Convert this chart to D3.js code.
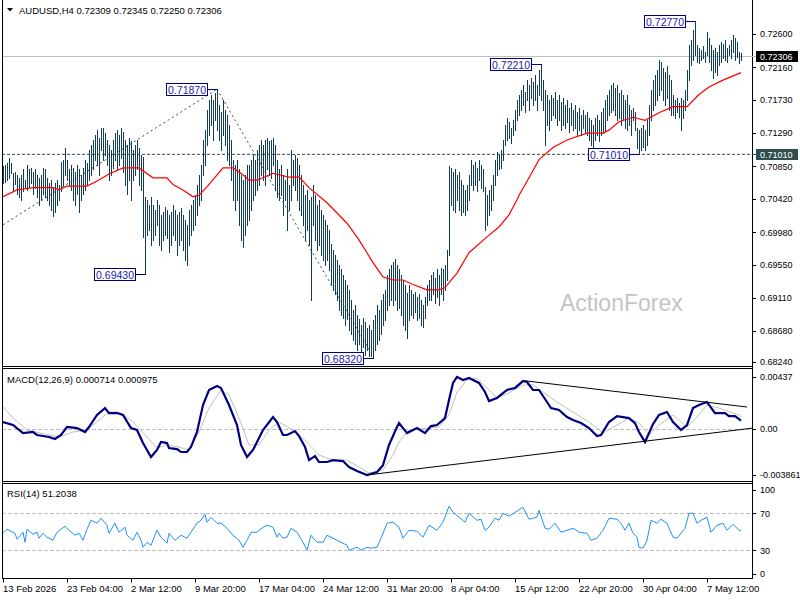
<!DOCTYPE html>
<html>
<head>
<meta charset="utf-8">
<script src="https://cdn.jsdelivr.net/npm/d3@7"></script>
<style>
  body { margin: 0; background: #fff; }
  text { font-family: "Liberation Sans", Arial, sans-serif; }
</style>
</head>
<body>
<svg id="chart" width="800" height="600"></svg>
<script>
// H4 bars, high / low per bar (13 Feb 20:00 .. 12 May 08:00)
const highs = [
  0.7085,0.7087,0.7090,0.7096,0.7090,0.7077,0.7078,0.7074,0.7070,0.7074,
  0.7081,0.7067,0.7087,0.7081,0.7083,0.7078,0.7081,0.7074,0.7070,0.7074,
  0.7083,0.7081,0.7070,0.7063,0.7067,0.7058,0.7063,0.7067,0.7061,0.7091,
  0.7094,0.7110,0.7094,0.7081,0.7087,0.7083,0.7078,0.7087,0.7081,0.7074,
  0.7083,0.7094,0.7090,0.7107,0.7114,0.7120,0.7127,0.7133,0.7123,0.7136,
  0.7136,0.7129,0.7120,0.7114,0.7107,0.7120,0.7129,0.7133,0.7127,0.7136,
  0.7131,0.7120,0.7114,0.7123,0.7118,0.7107,0.7114,0.7120,0.7110,0.7100,
  0.7098,0.7045,0.7041,0.7034,0.7045,0.7034,0.7027,0.7041,0.7034,0.7021,
  0.7025,0.7032,0.7027,0.7021,0.7025,0.7034,0.7027,0.7021,0.7025,0.7030,
  0.7021,0.7014,0.7008,0.7028,0.7034,0.7041,0.7047,0.7061,0.7074,0.7087,
  0.7120,0.7133,0.7160,0.7173,0.7180,0.7173,0.7182,0.7187,0.7166,0.7157,
  0.7173,0.7160,0.7153,0.7140,0.7120,0.7094,0.7087,0.7094,0.7081,0.7074,
  0.7067,0.7074,0.7087,0.7087,0.7094,0.7100,0.7094,0.7107,0.7114,0.7120,
  0.7114,0.7120,0.7123,0.7118,0.7120,0.7123,0.7114,0.7094,0.7081,0.7087,
  0.7074,0.7067,0.7081,0.7061,0.7107,0.7094,0.7100,0.7096,0.7087,0.7074,
  0.7061,0.7047,0.7054,0.7041,0.7045,0.7061,0.7047,0.7034,0.7041,0.7028,
  0.7021,0.7014,0.7008,0.7001,0.6982,0.6975,0.6968,0.6962,0.6955,0.6949,
  0.6942,0.6935,0.6929,0.6922,0.6909,0.6896,0.6902,0.6889,0.6883,0.6876,
  0.6885,0.6880,0.6872,0.6876,0.6869,0.6882,0.6889,0.6902,0.6896,0.6909,
  0.6916,0.6922,0.6942,0.6949,0.6955,0.6959,0.6963,0.6955,0.6949,0.6942,
  0.6935,0.6929,0.6918,0.6929,0.6922,0.6916,0.6919,0.6912,0.6916,0.6909,
  0.6902,0.6912,0.6929,0.6935,0.6942,0.6946,0.6938,0.6949,0.6942,0.6951,
  0.6949,0.6955,0.6975,0.7085,0.7083,0.7078,0.7081,0.7074,0.7078,0.7067,
  0.7061,0.7054,0.7061,0.7074,0.7094,0.7087,0.7091,0.7083,0.7094,0.7087,
  0.7081,0.7058,0.7047,0.7054,0.7061,0.7074,0.7094,0.7104,0.7100,0.7107,
  0.7120,0.7140,0.7149,0.7144,0.7136,0.7147,0.7160,0.7173,0.7180,0.7186,
  0.7193,0.7184,0.7199,0.7193,0.7202,0.7197,0.7206,0.7193,0.7212,0.7221,
  0.7199,0.7186,0.7180,0.7173,0.7180,0.7176,0.7184,0.7173,0.7180,0.7170,
  0.7176,0.7166,0.7173,0.7162,0.7169,0.7160,0.7166,0.7157,0.7162,0.7153,
  0.7160,0.7153,0.7157,0.7149,0.7146,0.7140,0.7149,0.7153,0.7146,0.7157,
  0.7162,0.7173,0.7180,0.7186,0.7193,0.7195,0.7189,0.7193,0.7182,0.7186,
  0.7180,0.7173,0.7180,0.7166,0.7160,0.7162,0.7157,0.7136,0.7133,0.7136,
  0.7140,0.7133,0.7146,0.7166,0.7186,0.7199,0.7206,0.7212,0.7226,0.7223,
  0.7215,0.7210,0.7218,0.7206,0.7199,0.7180,0.7173,0.7176,0.7169,0.7175,
  0.7173,0.7186,0.7212,0.7246,0.7252,0.7265,0.7277,0.7246,0.7242,0.7239,
  0.7244,0.7236,0.7263,0.7255,0.7246,0.7239,0.7242,0.7236,0.7246,0.7250,
  0.7247,0.7252,0.7242,0.7246,0.7252,0.7259,0.7255,0.7250,0.7236,0.72345
];
const lows = [
  0.7063,0.7065,0.7067,0.7070,0.7077,0.7054,0.7062,0.7048,0.7045,0.7041,
  0.7052,0.7058,0.7054,0.7058,0.7063,0.7048,0.7057,0.7044,0.7034,0.7041,
  0.7048,0.7045,0.7041,0.7034,0.7028,0.7019,0.7025,0.7034,0.7041,0.7052,
  0.7061,0.7074,0.7067,0.7061,0.7054,0.7041,0.7034,0.7048,0.7025,0.7041,
  0.7048,0.7054,0.7061,0.7067,0.7074,0.7081,0.7094,0.7087,0.7074,0.7107,
  0.7094,0.7100,0.7087,0.7067,0.7074,0.7083,0.7094,0.7081,0.7087,0.7096,
  0.7078,0.7061,0.7048,0.7067,0.7041,0.7067,0.7074,0.7081,0.7061,0.7054,
  0.6992,0.6943,0.6995,0.7001,0.6981,0.6988,0.6995,0.7008,0.6981,0.6975,
  0.6988,0.6995,0.6991,0.6972,0.6981,0.6995,0.6988,0.6968,0.6981,0.6988,
  0.6975,0.6962,0.6955,0.6981,0.6995,0.7001,0.7008,0.7021,0.7034,0.7041,
  0.7074,0.7087,0.7114,0.7127,0.7140,0.7120,0.7147,0.7133,0.7120,0.7107,
  0.7127,0.7114,0.7094,0.7087,0.7067,0.7041,0.7028,0.7041,0.7008,0.6988,
  0.6979,0.6995,0.7008,0.7014,0.7028,0.7041,0.7047,0.7054,0.7061,0.7074,
  0.7067,0.7061,0.7081,0.7074,0.7070,0.7087,0.7054,0.7045,0.7041,0.7047,
  0.7021,0.7041,0.7001,0.7028,0.7041,0.7061,0.7054,0.7041,0.7028,0.7021,
  0.7008,0.6988,0.7001,0.6981,0.6909,0.7008,0.6988,0.6975,0.6981,0.6968,
  0.6962,0.6955,0.6962,0.6948,0.6929,0.6922,0.6916,0.6909,0.6896,0.6889,
  0.6885,0.6876,0.6883,0.6869,0.6863,0.6856,0.6850,0.6843,0.6850,0.6840,
  0.6846,0.6836,0.6843,0.6835,0.6834,0.6832,0.6843,0.6850,0.6856,0.6863,
  0.6876,0.6882,0.6896,0.6902,0.6909,0.6902,0.6909,0.6896,0.6898,0.6889,
  0.6876,0.6869,0.6859,0.6882,0.6889,0.6885,0.6893,0.6882,0.6885,0.6876,
  0.6873,0.6885,0.6902,0.6909,0.6909,0.6916,0.6905,0.6912,0.6902,0.6916,
  0.6909,0.6922,0.6935,0.6968,0.7034,0.7028,0.7025,0.7041,0.7028,0.7021,
  0.7025,0.7021,0.7028,0.7041,0.7061,0.7054,0.7061,0.7052,0.7067,0.7057,
  0.7052,0.7001,0.7008,0.7021,0.7028,0.7041,0.7061,0.7074,0.7081,0.7083,
  0.7094,0.7114,0.7120,0.7123,0.7116,0.7127,0.7133,0.7147,0.7153,0.7160,
  0.7166,0.7157,0.7173,0.7160,0.7176,0.7166,0.7173,0.7160,0.7180,0.7173,
  0.7160,0.7114,0.7140,0.7133,0.7147,0.7153,0.7149,0.7140,0.7147,0.7133,
  0.7140,0.7136,0.7144,0.7131,0.7140,0.7133,0.7136,0.7127,0.7133,0.7127,
  0.7136,0.7131,0.7127,0.7120,0.7114,0.7110,0.7120,0.7127,0.7118,0.7127,
  0.7129,0.7133,0.7147,0.7153,0.7157,0.7160,0.7153,0.7147,0.7149,0.7140,
  0.7147,0.7136,0.7133,0.7140,0.7127,0.7147,0.7133,0.7110,0.7101,0.7107,
  0.7111,0.7107,0.7114,0.7127,0.7147,0.7160,0.7166,0.7173,0.7180,0.7186,
  0.7173,0.7166,0.7176,0.7160,0.7153,0.7153,0.7149,0.7157,0.7150,0.7133,
  0.7149,0.7160,0.7173,0.7199,0.7219,0.7226,0.7232,0.7223,0.7222,0.7226,
  0.7228,0.7223,0.7232,0.7223,0.7213,0.7202,0.7210,0.7206,0.7219,0.7223,
  0.7228,0.7226,0.7223,0.7232,0.7228,0.7236,0.7226,0.7230,0.7222,0.7225
];

// moving average: [bar, price]
const maLine = [
  [0,0.7045],[7,0.7054],[15,0.7057],[25,0.7057],[28,0.7054],[32,0.7059],[42,0.7059],
  [48,0.7067],[53,0.7075],[60,0.7083],[68,0.7083],[75,0.7070],[82,0.7070],[85,0.7061],
  [90,0.7054],[95,0.7045],[98,0.7047],[102,0.7058],[110,0.7083],[115,0.7083],[120,0.7074],
  [123,0.7067],[127,0.7067],[130,0.7070],[135,0.7076],[138,0.7074],[143,0.7071],[148,0.7071],
  [153,0.7057],[162,0.7037],[172,0.7010],[178,0.6988],[185,0.6958],[190,0.6939],[195,0.6935],
  [200,0.6935],[205,0.6929],[212,0.6922],[218,0.6922],[221,0.6925],[227,0.6944],[233,0.6971],
  [242,0.6992],[248,0.7005],[253,0.7021],[257,0.7041],[258,0.7047],[263,0.7070],[268,0.7094],
  [275,0.7110],[282,0.7120],[292,0.7129],[300,0.7129],[303,0.7133],[308,0.7144],[315,0.7150],
  [321,0.7146],[328,0.7156],[335,0.7164],[342,0.7164],[348,0.7180],[353,0.7190],[360,0.7199],
  [369,0.7209]
];

const macdLine = [
  [0,0.00059],[5,0.00034],[10,-0.00034],[15,-0.00025],[17,-0.00050],[23,-0.00067],[26,-0.00084],
  [29,-0.00050],[32,0.00017],[37,0.00008],[41,-0.00025],[43,0.00017],[47,0.00118],[51,0.00176],
  [53,0.00134],[57,0.00134],[60,0.00118],[64,0.00008],[67,-0.00008],[70,-0.00118],[74,-0.00235],
  [77,-0.00176],[79,-0.00109],[82,-0.00118],[83,-0.00160],[87,-0.00168],[89,-0.00193],[92,-0.00193],
  [94,-0.00151],[97,-0.00025],[100,0.00202],[103,0.00328],[107,0.00361],[109,0.00345],[113,0.00202],
  [117,0.00034],[119,-0.00134],[122,-0.00235],[125,-0.00176],[130,-0.00008],[135,0.00101],
  [137,0.00059],[140,-0.00050],[142,-0.00050],[146,-0.00017],[148,-0.00059],[151,-0.00151],
  [153,-0.00261],[156,-0.00227],[158,-0.00277],[162,-0.00277],[165,-0.00261],[170,-0.00269],
  [173,-0.00319],[177,-0.00353],[182,-0.003861],[187,-0.00361],[190,-0.00303],[193,-0.00134],
  [197,0.00017],[198,0.00050],[202,-0.00034],[205,-0.00008],[207,0.00008],[211,-0.00034],
  [214,0.00025],[217,0.00034],[221,0.00092],[223,0.00244],[225,0.00387],[227,0.00437],
  [230,0.00412],[233,0.00429],[238,0.00387],[241,0.00311],[243,0.00235],[247,0.00261],
  [252,0.00328],[256,0.00345],[260,0.00403],[262,0.00395],[265,0.00328],[268,0.00328],
  [272,0.00227],[274,0.00176],[278,0.00160],[282,0.00101],[285,0.00076],[289,0.00050],
  [293,0.00008],[297,-0.00059],[299,-0.00050],[303,0.00059],[307,0.00109],[313,0.00092],
  [316,0.00050],[318,-0.00025],[321,-0.00109],[323,-0.00034],[325,0.00042],[328,0.00118],
  [332,0.00143],[335,0.00059],[339,-0.00008],[342,0.00034],[345,0.00176],[348,0.00202],
  [352,0.00227],[356,0.00134],[358,0.00134],[361,0.00134],[363,0.00109],[366,0.00109],
  [368,0.00084],[369,0.000714]
];

const signalLine = [
  [0,0.00185],[5,0.00092],[12,-0.00008],[23,-0.00050],[28,-0.00067],[35,-0.00025],[42,-0.00008],
  [48,0.00076],[53,0.00143],[58,0.00143],[65,0.00059],[72,-0.00067],[77,-0.00160],[82,-0.00134],
  [88,-0.00151],[93,-0.00176],[98,-0.00025],[103,0.00176],[109,0.00328],[113,0.00286],
  [118,0.00092],[123,-0.00134],[128,-0.00134],[133,-0.00008],[138,0.00059],[145,-0.00008],
  [152,-0.00109],[158,-0.00218],[165,-0.00261],[172,-0.00261],[178,-0.00319],[183,-0.00370],
  [190,-0.00345],[195,-0.00218],[198,-0.00109],[203,-0.00008],[212,0.00008],[218,0.00017],
  [223,0.00118],[227,0.00311],[232,0.00412],[237,0.00429],[242,0.00345],[247,0.00261],
  [253,0.00303],[260,0.00370],[265,0.00370],[270,0.00311],[277,0.00227],[285,0.00143],
  [293,0.00059],[300,-0.00034],[307,0.00034],[313,0.00092],[318,0.00050],[323,-0.00050],
  [328,0.00034],[335,0.00118],[342,0.00017],[347,0.00101],[352,0.00202],[358,0.00176],
  [365,0.00134],[368,0.00118],[369,0.000975]
];

const rsiLine = [
  [0,48.4],[2,52.7],[6,48.4],[7,41.9],[10,49.5],[11,38.6],[12,52.7],[15,47.3],[17,49.5],[18,43.0],
  [20,48.4],[22,44.1],[25,40.8],[27,49.5],[31,55.9],[33,51.6],[36,46.2],[38,48.4],[40,40.8],
  [42,52.7],[44,62.4],[47,59.2],[49,64.6],[52,57.0],[53,48.4],[56,59.2],[58,49.5],[61,54.9],
  [62,46.2],[65,40.8],[67,49.5],[69,40.8],[70,33.2],[72,38.6],[74,35.4],[77,51.6],[79,44.1],
  [82,37.6],[83,48.4],[86,40.8],[89,46.2],[92,43.0],[94,49.5],[97,59.2],[99,62.4],[101,68.9],
  [102,60.3],[104,65.7],[107,59.2],[109,59.2],[112,53.8],[115,46.2],[118,40.8],[120,33.2],
  [122,40.8],[124,49.5],[127,49.5],[130,54.9],[132,57.0],[135,54.9],[137,44.1],[138,48.4],
  [140,43.0],[142,44.1],[144,53.8],[147,49.5],[150,38.6],[152,30.0],[154,46.2],[157,38.6],
  [160,38.6],[162,46.2],[165,43.0],[168,39.7],[172,35.4],[173,30.0],[177,33.2],[179,30.0],
  [182,33.2],[184,32.2],[187,33.2],[189,43.0],[192,59.2],[195,60.3],[198,54.9],[200,43.0],
  [203,51.6],[207,50.5],[210,44.1],[213,57.0],[217,51.6],[220,60.3],[223,77.6],[225,71.1],
  [228,65.7],[231,60.3],[233,70.0],[237,62.4],[239,63.5],[241,51.6],[243,54.9],[246,64.6],
  [248,62.4],[250,70.0],[253,66.8],[257,72.2],[260,76.5],[263,63.5],[267,65.7],[268,73.2],
  [271,53.8],[273,52.7],[276,59.2],[279,49.5],[282,51.6],[285,53.8],[288,49.5],[292,48.4],
  [294,40.8],[297,43.0],[300,51.6],[303,64.6],[307,63.5],[309,59.2],[311,51.6],[313,59.2],
  [315,48.4],[317,44.1],[318,33.2],[320,32.2],[322,40.8],[324,62.4],[327,59.2],[329,63.5],
  [332,59.2],[335,44.1],[337,43.0],[341,53.8],[343,70.0],[345,70.0],[347,59.2],[349,62.4],
  [352,65.7],[354,49.5],[357,57.0],[360,59.2],[362,51.6],[365,58.1],[368,51.6],[369,51.2]
];

// drawn objects
const priceTrends = [ [[0,0.7008],[107,0.7187]], [[107,0.7187],[184,0.6839]] ];
const macdTrends = [ [[261,0.00405],[372,0.00185]], [[182,-0.003861],[375,0.00008]] ];
const levelLabels = [ [107,0.7187], [71,0.6943], [185,0.6832], [269,0.7221], [318,0.7101], [346,0.7277] ];
const supportLevel = 0.7101;
const lastPrice = 0.72306;

const priceTicks = [0.726,0.7216,0.7173,0.7129,0.7085,0.7042,0.6998,0.6955,0.6911,0.6868,0.6824];
const macdTicks = [[0.00437,"0.00437"],[0,"0.00"],[-0.003861,"-0.003861"]];
const rsiTicks = [100,70,30,0];
const rsiLevels = [70,30];
const timeTicks = [0,32,64,96,128,160,192,224,256,288,320,352];
const timeLabels = ["13 Feb 2026","23 Feb 04:00","2 Mar 12:00","9 Mar 20:00","17 Mar 04:00",
  "24 Mar 12:00","31 Mar 20:00","8 Apr 04:00","15 Apr 12:00","22 Apr 20:00","30 Apr 04:00","7 May 12:00"];

const svg = d3.select("#chart");
const L = 2, R = 752;
const main = [0, 366.5], macdP = [368.5, 481.5], rsiP = [483.5, 578.5];

const x = d3.scaleLinear().domain([0, highs.length - 1]).range([3, 741]);
const yMain = d3.scaleLinear().domain([0.6824, 0.726]).range([364, 34]);
const yMacd = d3.scaleLinear().domain([-0.003861, 0.00437]).range([475, 377]);
const yRsi = d3.scaleLinear().domain([0, 100]).range([578, 485.5]);

const defs = svg.append("defs");
[["cMain", main], ["cMacd", macdP], ["cRsi", rsiP]].forEach(([id, p]) => {
  defs.append("clipPath").attr("id", id)
    .append("rect").attr("x", L + 1).attr("y", p[0] + 1).attr("width", R - L - 1).attr("height", p[1] - p[0] - 1);
});

svg.append("rect").attr("width", 800).attr("height", 600).attr("fill", "#fff");

// watermark
svg.append("text").attr("x", 560).attr("y", 311).attr("font-size", 23)
  .attr("fill", "#c4c4c4").text("ActionForex");

// ---- main panel
const gMain = svg.append("g").attr("clip-path", "url(#cMain)");

gMain.append("line")
  .attr("x1", L).attr("x2", R).attr("y1", yMain(supportLevel)).attr("y2", yMain(supportLevel))
  .attr("stroke", "#2f4f4f").attr("stroke-dasharray", "3,2");

gMain.append("line")
  .attr("x1", L).attr("x2", R).attr("y1", Math.round(yMain(lastPrice)) + 0.5).attr("y2", Math.round(yMain(lastPrice)) + 0.5)
  .attr("stroke", "#c0c0c0");

gMain.selectAll(".trend").data(priceTrends).join("line")
  .attr("x1", d => x(d[0][0])).attr("y1", d => yMain(d[0][1]))
  .attr("x2", d => x(d[1][0])).attr("y2", d => yMain(d[1][1]))
  .attr("stroke", "#2f4f4f").attr("stroke-dasharray", "2,3");

gMain.append("g").attr("shape-rendering", "crispEdges")
  .selectAll("line").data(d3.range(highs.length)).join("line")
    .attr("x1", i => x(i) + 0.5).attr("x2", i => x(i) + 0.5)
    .attr("y1", i => yMain(highs[i])).attr("y2", i => yMain(lows[i]) + 1)
    .attr("stroke", "#133c55");

gMain.append("path").datum(maLine)
  .attr("d", d3.line().x(d => x(d[0])).y(d => yMain(d[1])))
  .attr("fill", "none").attr("stroke", "#ff0000").attr("stroke-width", 1.2);

// price labels with connectors
levelLabels.forEach(([bar, price]) => {
  const py = Math.round(yMain(price)) + 0.5;
  const px = x(bar);
  const g = gMain.append("g");
  g.append("line").attr("x1", px - 10).attr("x2", px + 1).attr("y1", py).attr("y2", py)
    .attr("stroke", "#000080");
  const t = g.append("text").attr("font-size", 10.5).attr("fill", "#1a1ab0")
    .attr("y", py + 4).text(price.toFixed(5));
  const w = t.node().getComputedTextLength();
  t.attr("x", px - 11 - w);
  g.insert("rect", "text").attr("x", Math.round(px - 13 - w) + 0.5).attr("y", py - 6)
    .attr("width", Math.round(w + 3)).attr("height", 12)
    .attr("fill", "#fff").attr("stroke", "#000080");
});

// ---- MACD panel
const gMacd = svg.append("g").attr("clip-path", "url(#cMacd)");
gMacd.append("line").attr("x1", L).attr("x2", R).attr("y1", Math.round(yMacd(0)) + 0.5).attr("y2", Math.round(yMacd(0)) + 0.5)
  .attr("stroke", "#c0c0c0").attr("stroke-dasharray", "4,2");
gMacd.append("path").datum(signalLine)
  .attr("d", d3.line().x(d => x(d[0])).y(d => yMacd(d[1])))
  .attr("fill", "none").attr("stroke", "#c0c0c0").attr("stroke-width", 1);
gMacd.append("path").datum(macdLine)
  .attr("d", d3.line().x(d => x(d[0])).y(d => yMacd(d[1])))
  .attr("fill", "none").attr("stroke", "#000080").attr("stroke-width", 2.2);
gMacd.selectAll(".mtrend").data(macdTrends).join("line")
  .attr("x1", d => x(d[0][0])).attr("y1", d => yMacd(d[0][1]))
  .attr("x2", d => x(d[1][0])).attr("y2", d => yMacd(d[1][1]))
  .attr("stroke", "#000").attr("stroke-width", 1);

// ---- RSI panel
const gRsi = svg.append("g").attr("clip-path", "url(#cRsi)");
gRsi.selectAll(".lvl").data(rsiLevels).join("line")
  .attr("x1", L).attr("x2", R).attr("y1", d => Math.round(yRsi(d)) + 0.5).attr("y2", d => Math.round(yRsi(d)) + 0.5)
  .attr("stroke", "#c0c0c0").attr("stroke-dasharray", "4,2");
gRsi.append("path").datum(rsiLine)
  .attr("d", d3.line().x(d => x(d[0])).y(d => yRsi(d[1])))
  .attr("fill", "none").attr("stroke", "#1e90ff").attr("stroke-width", 1);

// ---- frames
const frame = svg.append("g").attr("stroke", "#000").attr("shape-rendering", "crispEdges");
frame.append("line").attr("x1", L + 0.5).attr("x2", L + 0.5).attr("y1", 0).attr("y2", rsiP[1]);
frame.append("line").attr("x1", R + 0.5).attr("x2", R + 0.5).attr("y1", 0).attr("y2", rsiP[1]);
[main[1], macdP[0], macdP[1], rsiP[0], rsiP[1]].forEach(yy => {
  frame.append("line").attr("x1", L).attr("x2", R + 1).attr("y1", yy).attr("y2", yy);
});

// ---- right axes
const axisG = svg.append("g").attr("font-size", 9).attr("fill", "#000");
function yLabels(ticks, scale, fmt, top, bottom) {
  ticks.forEach(t => {
    const v = Array.isArray(t) ? t[0] : t;
    const label = Array.isArray(t) ? t[1] : fmt(v);
    const yy = Math.max(top + 6, Math.min(bottom - 5, scale(v)));
    axisG.append("line").attr("x1", R).attr("x2", R + 4).attr("y1", Math.round(yy) + 0.5).attr("y2", Math.round(yy) + 0.5)
      .attr("stroke", "#000");
    axisG.append("text").attr("x", 760).attr("y", yy + 3.3).text(label);
  });
}
yLabels(priceTicks, yMain, d3.format(".5f"), main[0], main[1]);
yLabels(macdTicks, yMacd, null, macdP[0], macdP[1]);
yLabels(rsiTicks, yRsi, d => String(d), rsiP[0], rsiP[1]);

// current price and support badges on the axis
[[lastPrice, "#000"], [supportLevel, "#2f4f4f"]].forEach(([p, bg]) => {
  const yy = Math.round(yMain(p)) + 0.5;
  axisG.append("line").attr("x1", R).attr("x2", 756).attr("y1", yy).attr("y2", yy).attr("stroke", p === lastPrice ? "#c0c0c0" : "#2f4f4f");
  axisG.append("rect").attr("x", 756).attr("y", yy - 5.5).attr("width", 42).attr("height", 11).attr("fill", bg);
  axisG.append("text").attr("x", 760).attr("y", yy + 3.3).attr("fill", "#fff").text(p.toFixed(5));
});

// ---- time axis
const tG = svg.append("g").attr("font-size", 9.5).attr("fill", "#000");
timeTicks.forEach((b, i) => {
  tG.append("line").attr("x1", x(b) + 0.5).attr("x2", x(b) + 0.5).attr("y1", rsiP[1]).attr("y2", rsiP[1] + 4).attr("stroke", "#000");
  tG.append("text").attr("x", x(b)).attr("y", 592).text(timeLabels[i]);
});

// ---- titles
svg.append("path").attr("d", "M7,8 L13,8 L10,11.5 Z").attr("fill", "#000");
svg.append("text").attr("x", 19).attr("y", 14).attr("font-size", 9.5)
  .text("AUDUSD,H4  0.72309 0.72345 0.72250 0.72306");
svg.append("text").attr("x", 7).attr("y", 383).attr("font-size", 9.5)
  .text("MACD(12,26,9) 0.000714 0.000975");
svg.append("text").attr("x", 7).attr("y", 497).attr("font-size", 9.5)
  .text("RSI(14) 51.2038");
</script>
</body>
</html>
